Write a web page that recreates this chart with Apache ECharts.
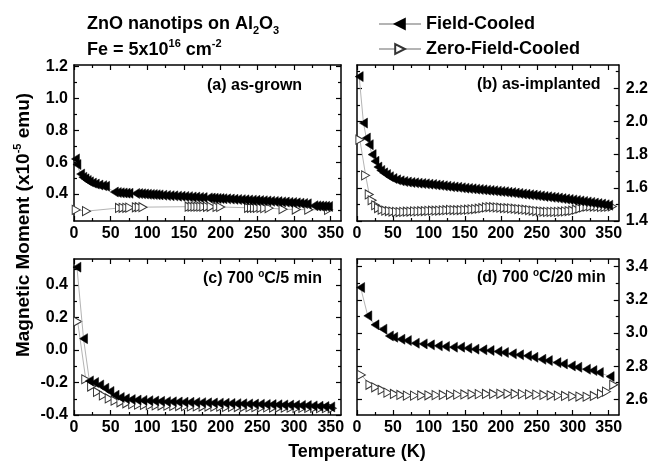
<!DOCTYPE html>
<html><head><meta charset="utf-8">
<script src="https://cdn.jsdelivr.net/npm/echarts@6/dist/echarts.min.js"></script>
<style>html,body{margin:0;padding:0;background:#fff}#c{width:651px;height:462px}</style>
</head><body><div id="c"></div>
<script>
const FONT = '"Liberation Sans", Arial, Helvetica, sans-serif';

// ---- tick labels ----
const xTicks = [0, 50, 100, 150, 200, 250, 300, 350];
const xMinorTicks = [25, 75, 125, 175, 225, 275, 325];
const yTicksA = [0.4, 0.6, 0.8, 1.0, 1.2];
const yMinorA = [0.3, 0.5, 0.7, 0.9, 1.1];
const yTicksB = [1.4, 1.6, 1.8, 2.0, 2.2];
const yMinorB = [1.5, 1.7, 1.9, 2.1, 2.3];
const yTicksC = [-0.4, -0.2, 0.0, 0.2, 0.4];
const yMinorC = [-0.3, -0.1, 0.1, 0.3, 0.5];
const yTicksD = [2.6, 2.8, 3.0, 3.2, 3.4];
const yMinorD = [2.7, 2.9, 3.1, 3.3];

// ---- series: names ----
const seriesNames = ['Field-Cooled', 'Zero-Field-Cooled'];

// ---- (a) as-grown ----
const tempA_FC = [2, 4, 9, 12, 15, 18, 21, 25, 29, 34, 39, 43, 55, 59, 63, 67, 71, 75, 84, 88, 92, 96, 100, 104, 108, 112, 116, 121, 126, 131, 136, 141, 146, 151, 156, 161, 166, 171, 176, 183, 187, 191, 195, 199, 203, 208, 213, 218, 223, 228, 233, 238, 243, 248, 253, 258, 263, 268, 273, 278, 283, 288, 293, 298, 303, 308, 313, 318, 327, 331, 335, 339, 343, 347];
const momA_FC = [0.62, 0.585, 0.525, 0.505, 0.495, 0.485, 0.476, 0.468, 0.462, 0.456, 0.452, 0.448, 0.412, 0.409, 0.407, 0.406, 0.405, 0.404, 0.403, 0.402, 0.401, 0.400, 0.398, 0.397, 0.396, 0.395, 0.394, 0.392, 0.390, 0.389, 0.388, 0.386, 0.385, 0.384, 0.383, 0.381, 0.380, 0.378, 0.377, 0.375, 0.374, 0.373, 0.372, 0.371, 0.370, 0.369, 0.368, 0.366, 0.365, 0.364, 0.363, 0.362, 0.361, 0.360, 0.358, 0.357, 0.356, 0.354, 0.353, 0.352, 0.350, 0.349, 0.347, 0.346, 0.344, 0.342, 0.340, 0.338, 0.326, 0.325, 0.324, 0.323, 0.322, 0.321];
const tempA_ZFC = [3, 17, 62, 67, 72, 76, 85, 89, 94, 157, 161, 165, 169, 173, 177, 182, 187, 195, 200, 238, 242, 246, 250, 255, 260, 266, 285, 303, 320, 347];
const momA_ZFC = [0.300, 0.292, 0.312, 0.313, 0.313, 0.314, 0.316, 0.317, 0.317, 0.320, 0.320, 0.320, 0.320, 0.320, 0.320, 0.319, 0.319, 0.318, 0.318, 0.313, 0.313, 0.312, 0.312, 0.312, 0.311, 0.311, 0.304, 0.302, 0.301, 0.300];

// ---- (b) as-implanted ----
const tempB_FC = [3, 9, 13, 17, 21, 25, 29, 33, 37, 41, 45, 50, 55, 60, 65, 70, 75, 80, 85, 90, 95, 100, 105, 110, 115, 120, 125, 130, 135, 140, 145, 150, 155, 160, 165, 170, 175, 180, 185, 190, 195, 200, 205, 210, 215, 220, 225, 230, 235, 240, 245, 250, 255, 260, 265, 270, 275, 280, 285, 290, 295, 300, 305, 310, 315, 320, 325, 330, 335, 340, 345, 350];
const momB_FC = [2.27, 1.99, 1.90, 1.86, 1.80, 1.76, 1.725, 1.705, 1.69, 1.68, 1.667, 1.656, 1.648, 1.642, 1.638, 1.635, 1.632, 1.630, 1.628, 1.626, 1.624, 1.622, 1.620, 1.617, 1.615, 1.612, 1.610, 1.607, 1.605, 1.603, 1.600, 1.598, 1.596, 1.594, 1.592, 1.590, 1.588, 1.586, 1.584, 1.582, 1.580, 1.578, 1.576, 1.573, 1.571, 1.568, 1.566, 1.563, 1.561, 1.558, 1.556, 1.553, 1.551, 1.548, 1.546, 1.543, 1.541, 1.538, 1.535, 1.532, 1.530, 1.527, 1.524, 1.521, 1.518, 1.515, 1.512, 1.508, 1.505, 1.502, 1.498, 1.495];
const tempB_ZFC = [4, 12, 17, 21, 26, 30, 35, 40, 45, 50, 55, 60, 65, 70, 75, 80, 85, 90, 95, 100, 105, 110, 115, 120, 125, 130, 135, 140, 145, 150, 155, 160, 165, 170, 175, 180, 185, 190, 195, 200, 205, 210, 215, 220, 225, 230, 235, 240, 245, 250, 255, 260, 265, 270, 275, 280, 285, 290, 295, 300, 305, 310, 315, 320, 325, 330, 335, 340, 345, 350, 355];
const momB_ZFC = [1.89, 1.675, 1.56, 1.525, 1.495, 1.478, 1.468, 1.462, 1.460, 1.457, 1.455, 1.454, 1.455, 1.456, 1.457, 1.458, 1.458, 1.459, 1.460, 1.461, 1.462, 1.462, 1.463, 1.464, 1.465, 1.467, 1.466, 1.465, 1.466, 1.467, 1.468, 1.470, 1.472, 1.474, 1.477, 1.482, 1.484, 1.483, 1.482, 1.480, 1.478, 1.477, 1.476, 1.474, 1.472, 1.470, 1.468, 1.466, 1.463, 1.460, 1.458, 1.456, 1.455, 1.455, 1.455, 1.455, 1.456, 1.458, 1.460, 1.462, 1.468, 1.475, 1.482, 1.486, 1.488, 1.487, 1.486, 1.485, 1.485, 1.486, 1.488];

// ---- (c) 700 C / 5 min ----
const tempC_FC = [4, 13, 21, 28, 35, 42, 49, 56, 63, 70, 78, 86, 94, 102, 110, 118, 126, 134, 142, 150, 158, 166, 174, 182, 190, 198, 206, 214, 222, 230, 238, 246, 254, 262, 270, 278, 286, 294, 302, 310, 318, 326, 334, 342, 350];
const momC_FC = [0.51, 0.07, -0.19, -0.20, -0.215, -0.235, -0.255, -0.278, -0.292, -0.300, -0.305, -0.308, -0.310, -0.312, -0.314, -0.316, -0.318, -0.319, -0.320, -0.321, -0.322, -0.323, -0.324, -0.325, -0.326, -0.327, -0.328, -0.329, -0.330, -0.331, -0.332, -0.333, -0.334, -0.335, -0.336, -0.337, -0.338, -0.339, -0.340, -0.341, -0.342, -0.344, -0.346, -0.348, -0.350];
const tempC_ZFC = [5, 16, 24, 32, 40, 48, 56, 64, 72, 80, 88, 96, 104, 112, 120, 128, 136, 144, 152, 160, 168, 176, 184, 192, 200, 208, 216, 224, 232, 240, 248, 256, 264, 272, 280, 288, 296, 304, 312, 320, 328, 336, 344, 352];
const momC_ZFC = [0.175, -0.18, -0.225, -0.258, -0.28, -0.298, -0.312, -0.322, -0.328, -0.333, -0.336, -0.338, -0.340, -0.341, -0.342, -0.343, -0.344, -0.345, -0.346, -0.347, -0.347, -0.348, -0.348, -0.349, -0.349, -0.350, -0.350, -0.351, -0.351, -0.352, -0.352, -0.353, -0.353, -0.354, -0.354, -0.355, -0.355, -0.356, -0.356, -0.357, -0.357, -0.358, -0.358, -0.359];

// ---- (d) 700 C / 20 min ----
const tempD_FC = [5, 15, 25, 36, 45, 51, 61, 70, 81, 92, 102, 113, 123, 134, 144, 154, 164, 175, 185, 196, 205, 216, 226, 237, 246, 257, 266, 278, 287, 298, 307, 319, 328, 337, 352];
const momD_FC = [3.274, 3.103, 3.049, 3.023, 2.982, 2.974, 2.962, 2.954, 2.938, 2.934, 2.928, 2.922, 2.918, 2.914, 2.914, 2.908, 2.902, 2.898, 2.894, 2.888, 2.882, 2.874, 2.868, 2.862, 2.853, 2.841, 2.833, 2.821, 2.813, 2.801, 2.793, 2.781, 2.773, 2.761, 2.737];
const tempD_ZFC = [6, 18, 26, 35, 43, 52, 61, 70, 80, 90, 100, 110, 120, 130, 140, 150, 160, 170, 180, 190, 200, 210, 220, 230, 240, 250, 260, 270, 280, 290, 300, 310, 320, 330, 340, 347, 357];
const momD_ZFC = [2.747, 2.687, 2.672, 2.656, 2.640, 2.632, 2.626, 2.622, 2.622, 2.623, 2.624, 2.625, 2.626, 2.627, 2.628, 2.629, 2.630, 2.631, 2.632, 2.632, 2.633, 2.633, 2.632, 2.631, 2.630, 2.628, 2.626, 2.624, 2.622, 2.620, 2.618, 2.616, 2.615, 2.620, 2.632, 2.646, 2.687];

// ---- layout ----
const XMIN = 0, XMAX = 364;
const panels = [
  { grid: {left: 74, top: 65, width: 267, height: 156}, yMin: 0.23, yMax: 1.21, yTicks: yTicksA, yMinor: yMinorA, side: 'left',
    fc: [tempA_FC, momA_FC], zfc: [tempA_ZFC, momA_ZFC] },
  { grid: {left: 357, top: 65, width: 266, height: 156}, yMin: 1.4, yMax: 2.34, yTicks: yTicksB, yMinor: yMinorB, side: 'right',
    fc: [tempB_FC, momB_FC], zfc: [tempB_ZFC, momB_ZFC] },
  { grid: {left: 74, top: 259, width: 267, height: 156}, yMin: -0.4, yMax: 0.56, yTicks: yTicksC, yMinor: yMinorC, side: 'left',
    fc: [tempC_FC, momC_FC], zfc: [tempC_ZFC, momC_ZFC] },
  { grid: {left: 357, top: 259, width: 266, height: 156}, yMin: 2.505, yMax: 3.446, yTicks: yTicksD, yMinor: yMinorD, side: 'right',
    fc: [tempD_FC, momD_FC], zfc: [tempD_ZFC, momD_ZFC] }
];

const LEFT_TRI = 'path://M0,5L10,0L10,10Z';
const RIGHT_TRI = 'path://M10,5L0,0L0,10Z';

function zip(t, m) { const n = Math.min(t.length, m.length); const out = []; for (let i = 0; i < n; i++) out.push([t[i], m[i]]); return out; }

const labelStyle = {fontSize: 16, fontWeight: 'bold', fontFamily: FONT, color: '#000'};

function mkAxis(gi, pos, min, max, ticks, len, showLabel, showLine, fmt, margin) {
  return {
    type: 'value', gridIndex: gi, position: pos, min: min, max: max,
    axisLine: {show: showLine, onZero: false, lineStyle: {color: '#000', width: 1.5}},
    axisTick: {show: true, inside: true, length: len, customValues: ticks, lineStyle: {color: '#000', width: 1.2}},
    axisLabel: Object.assign({show: showLabel, customValues: ticks, margin: margin, formatter: fmt}, labelStyle),
    splitLine: {show: false}, minorTick: {show: false}, minorSplitLine: {show: false}
  };
}
const fmtX = v => String(Math.round(v));
const fmtY = v => (Math.abs(v) < 1e-9 ? 0 : v).toFixed(1);

const grids = [], xAxes = [], yAxes = [], series = [];
panels.forEach((p, i) => {
  grids.push(Object.assign({containLabel: false}, p.grid));
  xAxes.push(mkAxis(i, 'bottom', XMIN, XMAX, xTicks, 5, true, true, fmtX, 5));
  xAxes.push(mkAxis(i, 'bottom', XMIN, XMAX, xMinorTicks, 3, false, false, fmtX, 5));
  xAxes.push(mkAxis(i, 'top', XMIN, XMAX, xTicks, 5, false, true, fmtX, 5));
  xAxes.push(mkAxis(i, 'top', XMIN, XMAX, xMinorTicks, 3, false, false, fmtX, 5));
  yAxes.push(mkAxis(i, 'left', p.yMin, p.yMax, p.yTicks, 5, p.side === 'left', true, fmtY, 6));
  yAxes.push(mkAxis(i, 'left', p.yMin, p.yMax, p.yMinor, 3, false, false, fmtY, 6));
  yAxes.push(mkAxis(i, 'right', p.yMin, p.yMax, p.yTicks, 5, p.side === 'right', true, fmtY, 7));
  yAxes.push(mkAxis(i, 'right', p.yMin, p.yMax, p.yMinor, 3, false, false, fmtY, 7));
  series.push({
    type: 'line', name: seriesNames[1], xAxisIndex: 4 * i, yAxisIndex: 4 * i,
    data: zip(p.zfc[0], p.zfc[1]), symbol: RIGHT_TRI, symbolSize: [8, 9], showSymbol: true,
    itemStyle: {color: '#fff', borderColor: '#333', borderWidth: 1},
    lineStyle: {color: '#b4b4b4', width: 1}, z: 2, clip: false
  });
  series.push({
    type: 'line', name: seriesNames[0], xAxisIndex: 4 * i, yAxisIndex: 4 * i,
    data: zip(p.fc[0], p.fc[1]), symbol: LEFT_TRI, symbolSize: [8, 10], showSymbol: true,
    itemStyle: {color: '#000', borderColor: '#000', borderWidth: 0.5},
    lineStyle: {color: '#b4b4b4', width: 1}, z: 3, clip: false
  });
});

const M = {fontSize: 18, fontWeight: 'bold', fontFamily: FONT, fill: '#000', lineHeight: 24};
const MY = {fontSize: 19, fontWeight: 'bold', fontFamily: FONT, fill: '#000', lineHeight: 24};
const SUB = {fontSize: 11, fontWeight: 'bold', fontFamily: FONT, fill: '#000', lineHeight: 13, verticalAlign: 'bottom'};
const SUP = {fontSize: 11, fontWeight: 'bold', fontFamily: FONT, fill: '#000', lineHeight: 13, verticalAlign: 'top'};
const P = {fontSize: 16, fontWeight: 'bold', fontFamily: FONT, fill: '#000', lineHeight: 20};
const PS = {fontSize: 10, fontWeight: 'bold', fontFamily: FONT, fill: '#000', lineHeight: 12, verticalAlign: 'top'};

function txt(x, y, text, rich, extra) {
  return Object.assign({type: 'text', x: x, y: y, z: 100,
    style: {text: text, rich: rich, align: 'left', verticalAlign: 'middle'}}, extra || {});
}

const graphics = [
  txt(87, 24, '{m|ZnO nanotips on Al}{b|2}{m|O}{b|3}', {m: M, b: SUB}),
  txt(87, 50, '{m|Fe = 5x10}{p|16}{m| cm}{p|-2}', {m: M, p: SUP}),
  txt(207, 86, '{m|(a) as-grown}', {m: P}),
  txt(477, 85, '{m|(b) as-implanted}', {m: P}),
  txt(203, 279, '{m|(c) 700 }{s|o}{m|C/5 min}', {m: P, s: PS}),
  txt(477, 278, '{m|(d) 700 }{s|o}{m|C/20 min}', {m: P, s: PS}),
  {type: 'text', x: 357, y: 452, z: 100, style: {text: '{m|Temperature (K)}', rich: {m: M}, align: 'center', verticalAlign: 'middle'}},
  {type: 'text', x: 24, y: 225, rotation: Math.PI / 2, z: 100,
    style: {text: '{m|Magnetic Moment (x10}{p|-5}{m| emu)}', rich: {m: MY, p: SUP}, align: 'center', verticalAlign: 'middle'}}
];

const chart = echarts.init(document.getElementById('c'), null, {renderer: 'canvas'});
chart.setOption({
  animation: false,
  backgroundColor: '#fff',
  legend: {
    data: seriesNames, orient: 'vertical', left: 378, top: 15, padding: 0,
    itemWidth: 42, itemHeight: 12, itemGap: 7, selectedMode: false,
    textStyle: {fontSize: 18, fontWeight: 'bold', fontFamily: FONT, color: '#000'}
  },
  grid: grids, xAxis: xAxes, yAxis: yAxes, series: series, graphic: graphics
});
</script></body></html>
